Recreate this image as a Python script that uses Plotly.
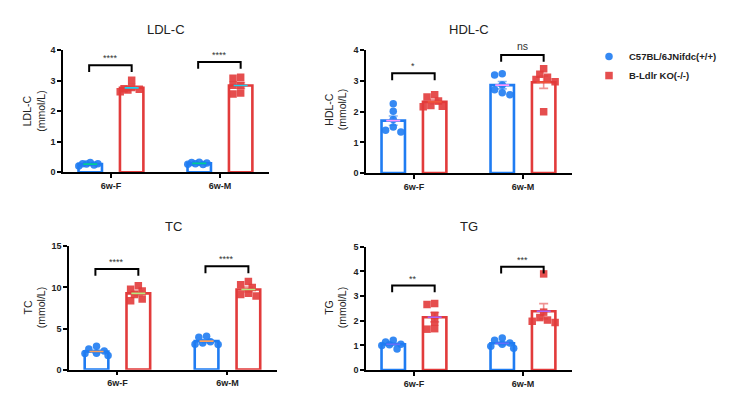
import numpy as np
import plotly.graph_objects as go

# ---------------- data ----------------
categories = ["6w-F", "6w-M"]
group_names = ["C57BL/6JNifdc(+/+)", "B-Ldlr KO(-/-)"]
panel_titles = ["LDL-C", "HDL-C", "TC", "TG"]
y_titles = ["LDL-C<br>(mmol/L)", "HDL-C<br>(mmol/L)", "TC<br>(mmol/L)", "TG<br>(mmol/L)"]
y_max = [4, 4, 15, 5]
y_dtick = [1, 1, 5, 1]

ldl_wt_F = [0.20, 0.32, 0.28, 0.27, 0.24, 0.28]
ldl_ko_F = [2.70, 2.74, 2.78, 3.02, 2.72, 2.64]
ldl_wt_M = [0.25, 0.32, 0.28, 0.33, 0.26, 0.30]
ldl_ko_M = [3.12, 2.57, 3.08, 2.85, 2.60, 2.85]

hdl_wt_F = [2.26, 2.02, 1.75, 1.50, 1.40, 1.34]
hdl_ko_F = [2.55, 2.48, 2.35, 2.20, 2.18, 2.16]
hdl_wt_M = [3.24, 3.20, 2.72, 2.62, 2.55, 2.87]
hdl_ko_M = [3.40, 3.22, 3.12, 2.98, 2.00, 3.05]

tc_wt_F = [2.51, 2.27, 2.83, 1.95, 1.72, 2.00]
tc_ko_F = [9.77, 10.20, 9.57, 9.13, 8.38, 8.58]
tc_wt_M = [3.95, 4.05, 3.40, 3.10, 3.05, 3.25]
tc_ko_M = [10.73, 10.33, 10.00, 9.30, 8.97, 9.13]

tg_wt_F = [1.21, 1.14, 1.05, 1.00, 1.03, 0.86]
tg_ko_F = [2.70, 2.66, 2.22, 1.95, 1.66, 1.68]
tg_wt_M = [1.30, 1.21, 1.10, 1.05, 0.97, 0.89]
tg_ko_M = [3.90, 2.35, 2.13, 2.03, 1.98, 1.93]

sig_labels = [["****", "****"], ["*", "ns"], ["****", "****"], ["**", "***"]]
bracket_y = [[3.51, 3.62], [3.25, 3.85], [12.25, 12.56], [3.43, 4.19]]

panel_data = [
    [[ldl_wt_F, ldl_wt_M], [ldl_ko_F, ldl_ko_M]],
    [[hdl_wt_F, hdl_wt_M], [hdl_ko_F, hdl_ko_M]],
    [[tc_wt_F, tc_wt_M], [tc_ko_F, tc_ko_M]],
    [[tg_wt_F, tg_wt_M], [tg_ko_F, tg_ko_M]],
]

# ---------------- style / layout ----------------
W, H = 738, 399
FONT = "Liberation Sans, Arial, sans-serif"
colors = ["#1f7cf2", "#e23b3b"]
light = ["rgba(31,124,242,0.55)", "rgba(226,59,59,0.55)"]
symbols = ["circle", "square"]
offsets = [-0.19, 0.19]
bar_w = 0.215
x_range = [-0.44, 1.45]

# pixel boxes: x0, x1, y_top, y_bottom, ytitle_x, ytitle_y
boxes = [
    (63, 269, 46.5, 171.5, 34.5, 109),
    (366, 572, 46.5, 172.5, 336, 108),
    (69, 277, 247.5, 374, 35, 311),
    (366, 572, 248, 374.5, 336, 311),
]
title_y = [25, 25, 227, 227]


def swarm(vals, px_x, px_y, diam=6.5, step=0.035, maxoff=0.106):
    vals = np.asarray(vals, dtype=float)
    cands = [0.0]
    k = 1
    while k * step <= maxoff + 1e-9:
        cands += [-k * step, k * step]
        k += 1
    placed = []
    xs = np.zeros(len(vals))
    for i in np.argsort(-vals):
        y = vals[i] * px_y
        best, best_d = None, -1
        for c in cands:
            dmin = min([np.hypot((c - p[0]) * px_x, y - p[1]) for p in placed] or [1e9])
            if dmin >= diam:
                best = c
                break
            if dmin > best_d:
                best_d, best = dmin, c
        placed.append((best, y))
        xs[i] = best
    return xs


fig = go.Figure()
layout = {}
shapes = []
annotations = []

for p in range(4):
    x0, x1, yt, yb, ytx, yty = boxes[p]
    ax = "" if p == 0 else str(p + 1)
    xref, yref = "x" + ax, "y" + ax
    px_x = (x1 - x0) / (x_range[1] - x_range[0])
    px_y = (yb - yt) / y_max[p]

    for g in range(2):
        vals = panel_data[p][g]
        means = [float(np.mean(v)) for v in vals]
        sems = [float(np.std(v, ddof=1) / np.sqrt(len(v))) for v in vals]
        xc = [c + offsets[g] for c in range(len(categories))]
        fig.add_trace(go.Bar(
            x=xc, y=means, width=bar_w, xaxis=xref, yaxis=yref,
            marker=dict(color="white", line=dict(color=colors[g], width=2.6)),
            showlegend=False, hoverinfo="skip"))
        px, py = [], []
        for c, v in enumerate(vals):
            jit = swarm(v, px_x, px_y)
            px += list(xc[c] + jit)
            py += list(v)
        fig.add_trace(go.Scatter(
            x=px, y=py, mode="markers", xaxis=xref, yaxis=yref,
            marker=dict(symbol=symbols[g], size=7.5, color=colors[g], opacity=0.9,
                        line=dict(width=0)),
            name=group_names[g], showlegend=(p == 0)))
        fig.add_trace(go.Scatter(
            x=xc, y=means, mode="markers", xaxis=xref, yaxis=yref,
            marker=dict(symbol="line-ew-open", size=10, line=dict(color=light[g], width=1.6)),
            error_y=dict(type="data", array=sems, visible=True, color=light[g],
                         thickness=1.6, width=4.5),
            showlegend=False, hoverinfo="skip"))

    layout["xaxis" + ax] = dict(
        domain=[x0 / W, x1 / W], range=x_range, anchor=yref,
        tickvals=list(range(len(categories))), ticktext=categories,
        showline=True, linecolor="black", linewidth=1.6, ticks="outside",
        ticklen=4, tickwidth=1.6, tickcolor="black", showgrid=False, zeroline=False,
        tickfont=dict(family=FONT, size=9, color="#222", weight="bold"))
    layout["yaxis" + ax] = dict(
        domain=[1 - yb / H, 1 - yt / H], range=[0, y_max[p]], dtick=y_dtick[p],
        anchor=xref, showline=True, linecolor="black", linewidth=1.6,
        ticks="outside", ticklen=4, tickwidth=1.6, tickcolor="black",
        showgrid=False, zeroline=False,
        tickfont=dict(family=FONT, size=9, color="#222", weight="bold"))

    # brackets
    leg = 7 / px_y
    for c in range(len(categories)):
        bx0, bx1 = c - 0.2, c + 0.19
        by = bracket_y[p][c]
        shapes.append(dict(
            type="path", xref=xref, yref=yref,
            path=f"M {bx0},{by - leg} L {bx0},{by} L {bx1},{by} L {bx1},{by - leg}",
            line=dict(color="black", width=2)))
        lab = sig_labels[p][c]
        annotations.append(dict(
            x=(bx0 + bx1) / 2, y=by, xref=xref, yref=yref, text=lab, showarrow=False,
            yanchor="bottom", yshift=0 if lab != "ns" else 1,
            font=dict(family=FONT, size=9 if lab != "ns" else 10.5, color="#333")))

    annotations.append(dict(
        x=(x0 + x1) / 2 / W, y=1 - title_y[p] / H, xref="paper", yref="paper",
        text=panel_titles[p], showarrow=False, xanchor="center", yanchor="middle",
        font=dict(family=FONT, size=13, color="#222")))
    annotations.append(dict(
        x=ytx / W, y=1 - yty / H, xref="paper", yref="paper", text=y_titles[p],
        showarrow=False, textangle=-90, xanchor="center", yanchor="middle",
        font=dict(family=FONT, size=10.5, color="#222")))

fig.update_layout(
    **layout,
    width=W, height=H, margin=dict(l=0, r=0, t=0, b=0),
    paper_bgcolor="white", plot_bgcolor="white", barmode="overlay",
    shapes=shapes, annotations=annotations,
    legend=dict(x=589 / W, y=1 - 38 / H, xanchor="left", yanchor="top",
                font=dict(family=FONT, size=9.5, color="#222", weight="bold"),
                bgcolor="rgba(0,0,0,0)", itemsizing="trace", tracegroupgap=0),
)

fig.write_html("out.html", config={"displayModeBar": False},
               post_script="document.body.style.margin='0px';document.body.style.overflow='hidden';")
